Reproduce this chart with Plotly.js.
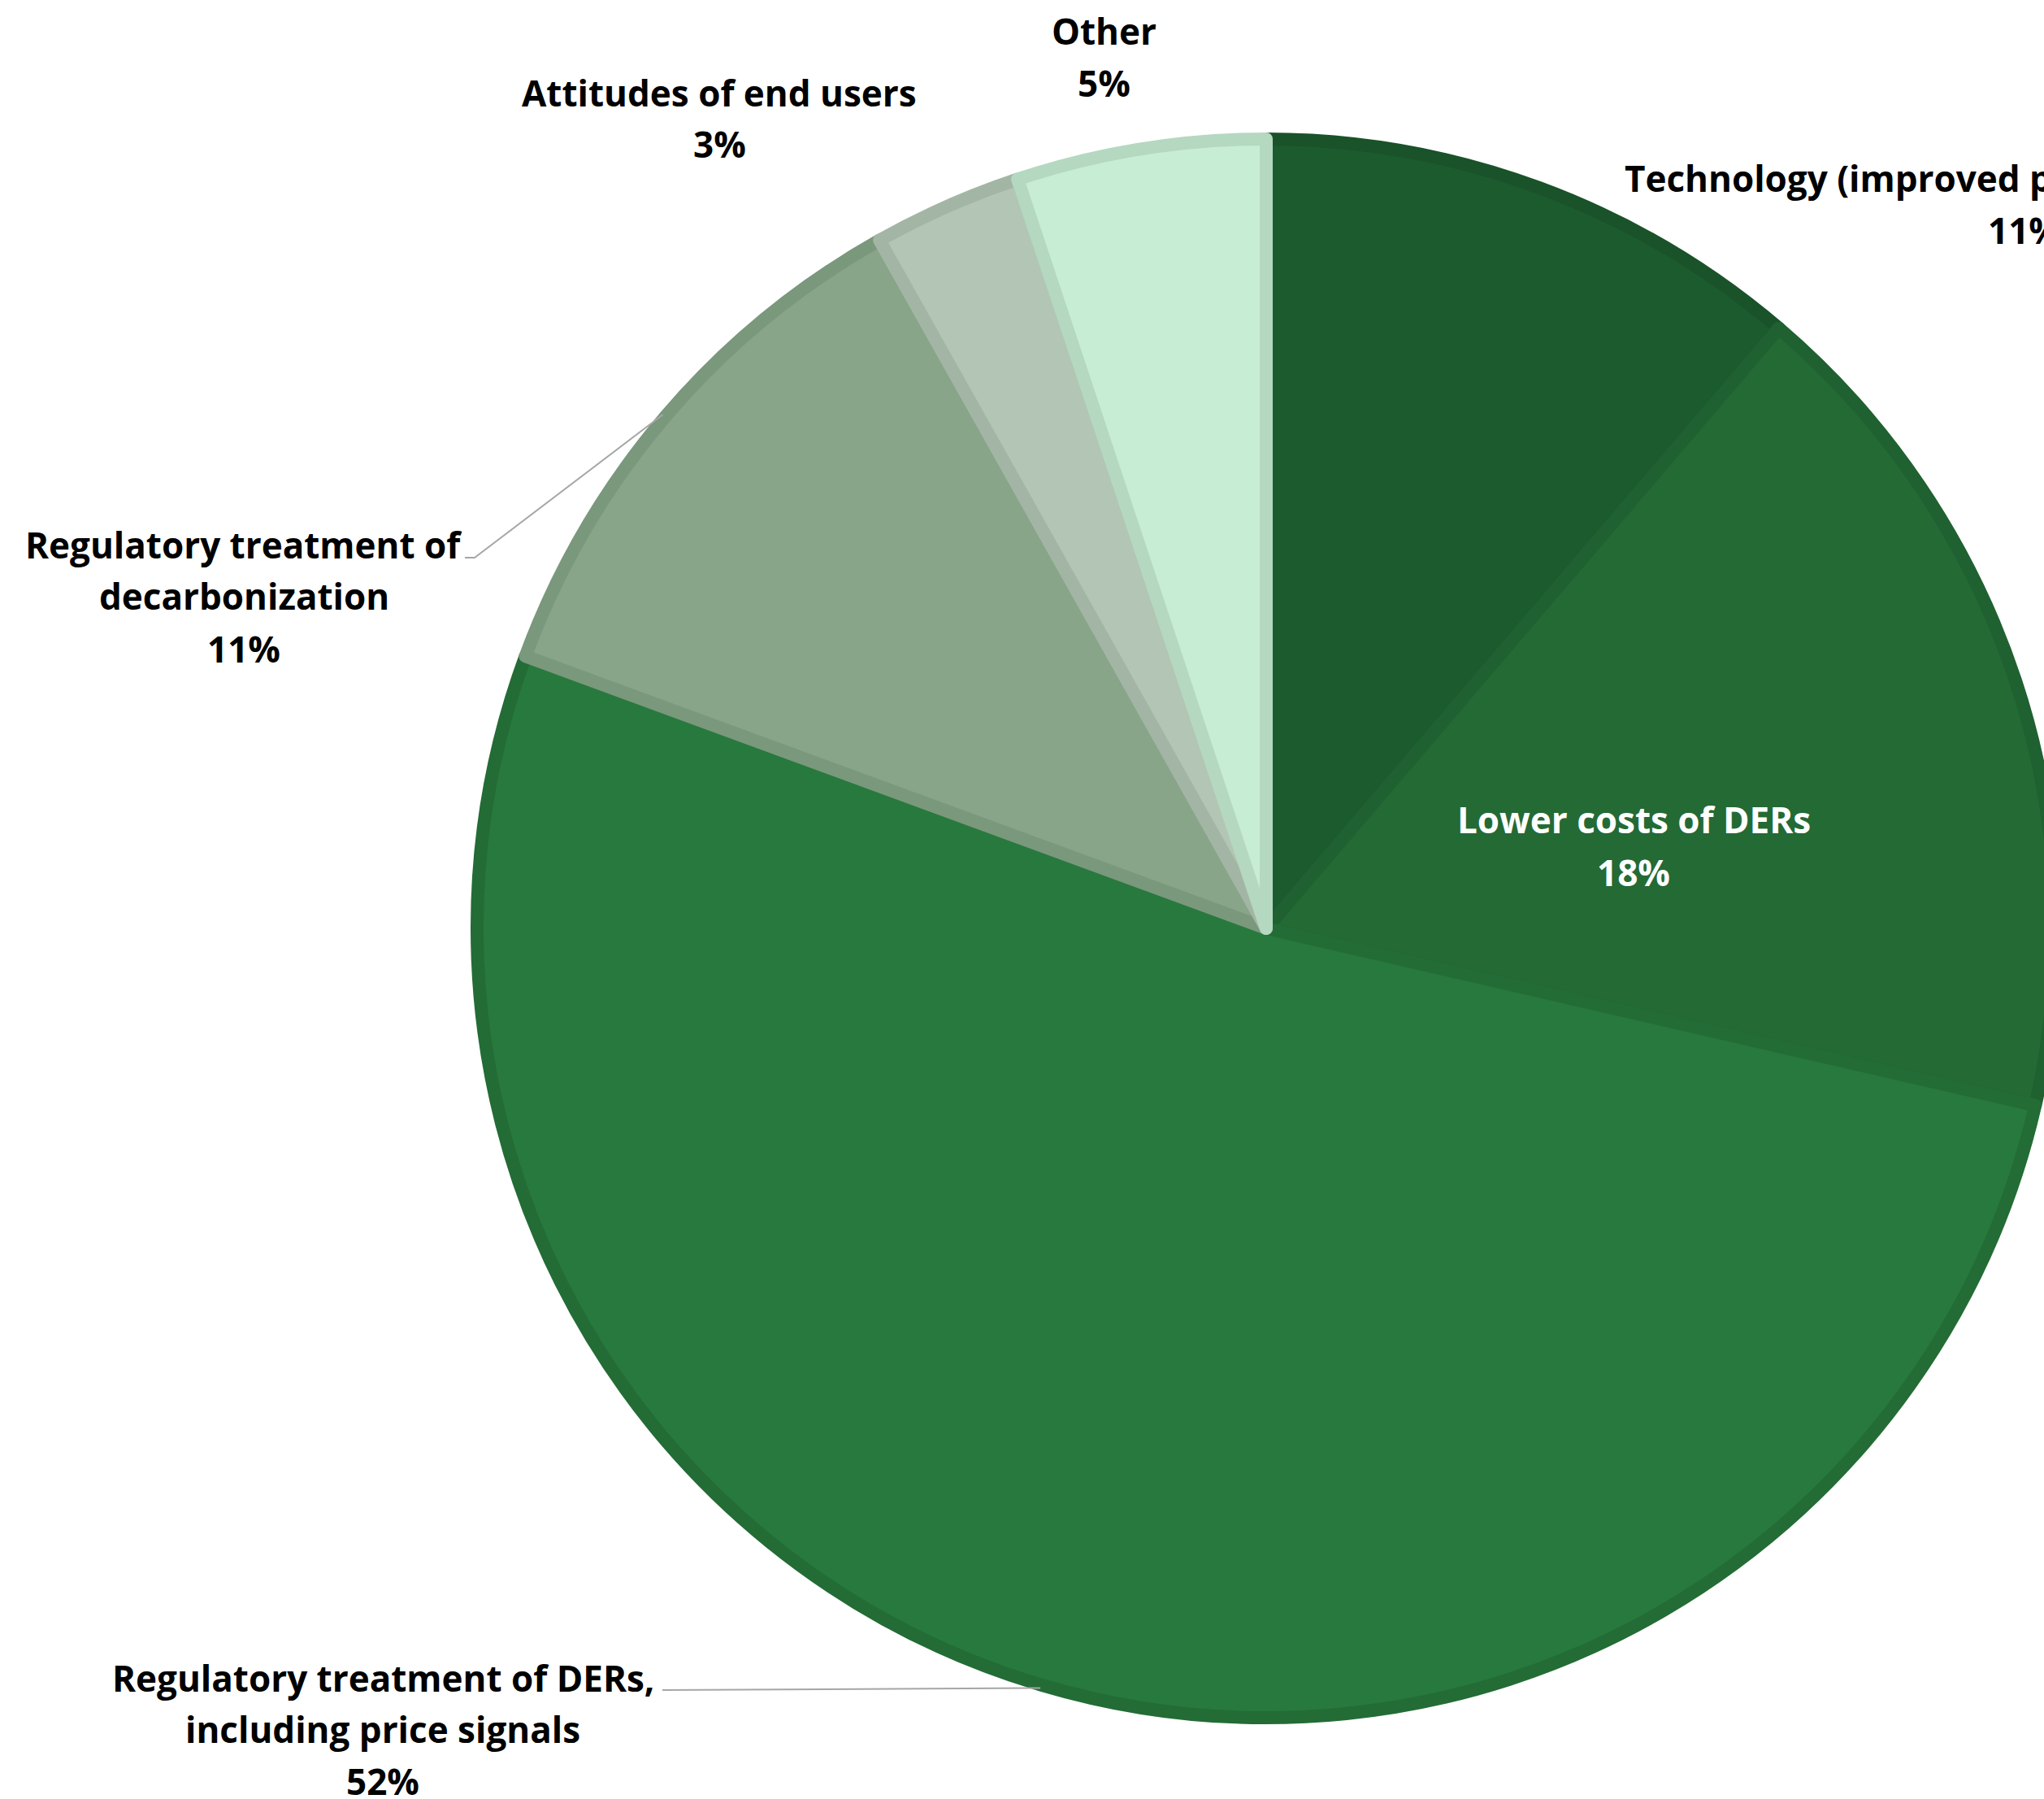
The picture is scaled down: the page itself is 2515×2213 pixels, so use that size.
<!DOCTYPE html>
<html>
<head>
<meta charset="utf-8">
<script src="https://cdn.plot.ly/plotly-3.0.1.min.js"></script>
<style>html,body{margin:0;padding:0;overflow:hidden;background:#ffffff}</style>
</head>
<body>
<div id="chart"></div>
<script>
// ---- data ----
const categories = [
  "Technology (improved performance/cost)",
  "Lower costs of DERs",
  "Regulatory treatment of DERs, including price signals",
  "Regulatory treatment of decarbonization",
  "Attitudes of end users",
  "Other"
];
const labelText = [
  "Technology (improved performance/cost)",
  "Lower costs of DERs",
  "Regulatory treatment of DERs,<br>including price signals",
  "Regulatory treatment of<br>decarbonization",
  "Attitudes of end users",
  "Other"
];
const shares = [11.25, 17.35, 52.0, 11.25, 3.05, 5.1];
const percentLabels = ["11%", "18%", "52%", "11%", "3%", "5%"];
const fillColors = ["#1c5b2e", "#236a35", "#28793d", "#88a58a", "#b3c6b5", "#c8edd5"];
const borderColors = ["#1a5229", "#1f6130", "#236c35", "#7a987c", "#a3b6a5", "#b5d8c0"];

// ---- layout geometry ----
const W = 2600, H = 2213;
const cx = 1558, cy = 1142, R = 971, LW = 16;
const px = x => x / W, py = y => 1 - y / H;

const FONT = "'Open Sans', Lato, sans-serif";
const FS = 44;

// mid-angle of slices on the pie edge (for leader lines)
const total = shares.reduce((a, b) => a + b, 0);
let cum = 0;
const edge = shares.map(v => {
  const mid = (cum + v / 2) / total; cum += v;
  const th = 2 * Math.PI * mid;
  return [cx + (R + 4) * Math.sin(th), cy - (R + 4) * Math.cos(th)];
});

const black = {family: FONT, size: FS, color: "#000000", weight: 700};
const white = {family: FONT, size: FS, color: "#ffffff", weight: 700};

function ann(x, y, text, font, xanchor) {
  return {x: px(x), y: py(y), xref: "paper", yref: "paper", text: text, showarrow: false,
          font: font, align: "center", xanchor: xanchor || "center", yanchor: "middle"};
}

// label placement: [x centre, y of each line centre]
const place = [
  null,
  [2010, [1008, 1073]],
  [471, [2064, 2127, 2191]],
  [300, [670, 733, 798]],
  [885, [114, 177]],
  [1358, [38, 102]]
];

const annotations = [
  ann(1997, 219, labelText[0], black, "left"),
  ann(2444, 283, percentLabels[0], black, "left")
];
for (let i = 1; i < place.length; i++) {
  const lines = labelText[i].split("<br>").concat([percentLabels[i]]);
  const [x, ys] = place[i];
  lines.forEach((t, k) => annotations.push(ann(x, ys[k], t, i === 1 ? white : black)));
}

const lineStyle = {color: "#a6a6a6", width: 2};
const shapes = [
  {type: "path", xref: "paper", yref: "paper", line: lineStyle,
   path: `M ${px(572)} ${py(686)} L ${px(584)} ${py(686)} L ${px(edge[3][0])} ${py(edge[3][1])}`},
  {type: "path", xref: "paper", yref: "paper", line: lineStyle,
   path: `M ${px(815)} ${py(2079)} L ${px(edge[2][0])} ${py(edge[2][1])}`}
];

const trace = {
  type: "pie",
  values: shares,
  labels: categories,
  sort: false,
  direction: "clockwise",
  rotation: 0,
  textinfo: "none",
  hoverinfo: "label+percent",
  showlegend: false,
  marker: {colors: fillColors, line: {color: borderColors, width: LW}},
  domain: {x: [px(cx - R), px(cx + R)], y: [py(cy + R), py(cy - R)]}
};

Plotly.newPlot("chart", [trace], {
  width: W, height: H,
  margin: {l: 0, r: 0, t: 0, b: 0},
  paper_bgcolor: "#ffffff",
  showlegend: false,
  annotations: annotations,
  shapes: shapes
}, {displayModeBar: false, staticPlot: true});
</script>
</body>
</html>
